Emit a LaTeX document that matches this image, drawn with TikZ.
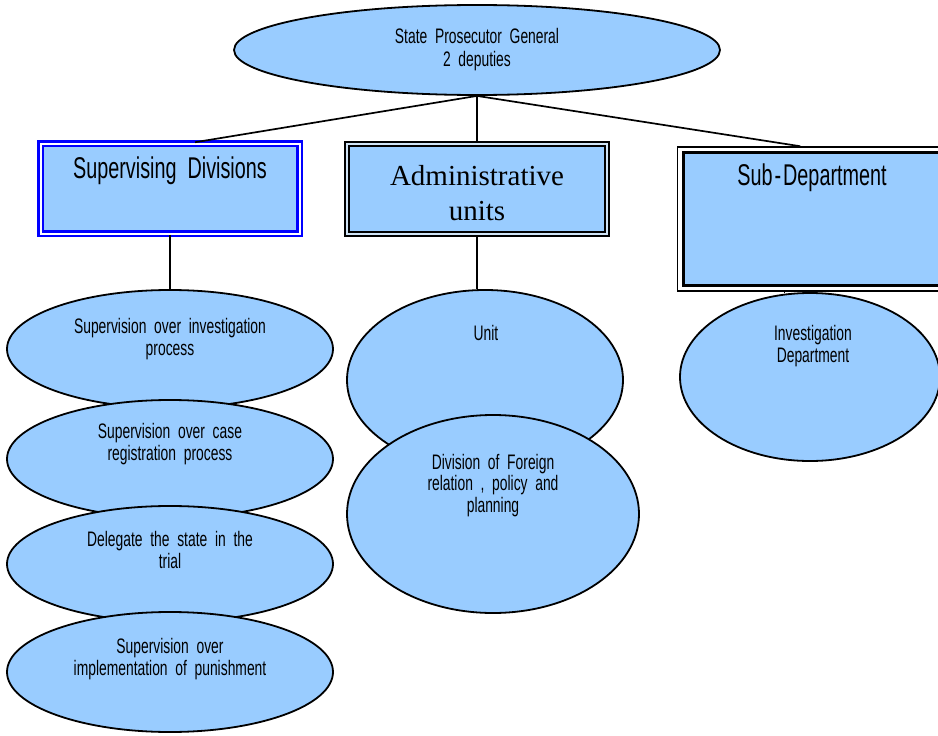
\documentclass[tikz,border=0pt]{standalone}
\usepackage{fontspec}
\setmainfont{Liberation Sans}[FakeStretch=0.66,WordSpace=2]
\newfontfamily\headserif{Liberation Serif}
\usetikzlibrary{shapes.geometric}
\definecolor{orgfill}{HTML}{99CCFF}
\definecolor{gapgrey}{HTML}{D0E4F6}
\begin{document}
\begin{tikzpicture}[x=1pt,y=-1pt,
  bubble/.style={ellipse,draw=black,line width=1.8pt,fill=orgfill,inner sep=0pt},
  smalltext/.style={font=\fontsize{21}{21.5}\selectfont,align=center,inner sep=0pt,anchor=base},
  headtext/.style={font=\fontsize{30}{34}\selectfont,inner sep=0pt,anchor=base},
  link/.style={draw=black,line width=1.7pt},
  bluebox/.style={draw=blue,double=white,double distance=2pt,line width=2.5pt,fill=orgfill,inner sep=0pt},
  blackbox/.style={draw=black,double=gapgrey,double distance=1.5pt,line width=2.5pt,fill=orgfill,inner sep=0pt},
]
\clip (0,0) rectangle (938,736);
\fill[white] (0,0) rectangle (938,736);

% head of the office (text nodes are anchored at the baseline of their last line)
\node[bubble,minimum width=486pt,minimum height=90pt] (spg) at (477,50) {};
\node[smalltext,font=\fontsize{21}{23}\selectfont] (spgt) at (477,66) {State Prosecutor General\\2 deputies};

% second level boxes
\node[bluebox,minimum width=259pt,minimum height=90pt] (sup) at (170,188.5) {};
\node[headtext] (supt) at (170,178) {Supervising Divisions};

\node[blackbox,minimum width=260pt,minimum height=90pt] (adm) at (477,189) {};
\node[font=\headserif\fontsize{29}{35}\selectfont,align=center,inner sep=0pt,anchor=base] (admt) at (477,220) {Administrative\\units};

\node[draw=black,line width=1.5pt,inner sep=0pt,minimum width=283.6pt,minimum height=144.2pt] (subframe) at (819.3,219.1) {};
\node[draw=black,line width=3pt,fill=orgfill,inner sep=0pt,minimum width=272pt,minimum height=132.5pt] (sub) at (819.3,218.75) {};
\node[headtext] (subt) at (812,185) {Sub\kern2pt-\kern2pt Department};

% connectors from the head
\draw[link] (spg.south) -- ([xshift=25pt]sup.north);
\draw[link] (spg.south) -- (adm.north);
\draw[link] (spg.south) -- ([xshift=-19pt]subframe.north);

% supervising divisions
\node[bubble,minimum width=326pt,minimum height=118pt] (e1) at (170,349) {};
\draw[link] (sup.south) -- (e1.north);
\node[smalltext] (e1t) at (170,355) {Supervision over investigation\\process};
\node[bubble,minimum width=326pt,minimum height=118pt] (e2) at (170,459) {};
\node[smalltext] (e2t) at (170,460) {Supervision over case\\registration process};
\node[bubble,minimum width=326pt,minimum height=116pt] (e3) at (170,564) {};
\node[smalltext] (e3t) at (170,568) {Delegate the state in the\\trial};
\node[bubble,minimum width=326pt,minimum height=120pt] (e4) at (170,672) {};
\node[smalltext] (e4t) at (170,675) {Supervision over\\implementation of punishment};

% administrative units
\node[bubble,minimum width=276pt,minimum height=180pt] (unit) at (485,380) {};
\draw[link] (adm.south) -- (adm.south |- unit.north);
\node[smalltext] (unitt) at (486,340) {Unit};
\node[bubble,minimum width=292pt,minimum height=198pt] (div) at (493,514) {};
\node[smalltext] (divt) at (493,512) {Division of Foreign\\relation , policy and\\planning};

% sub-department
\node[bubble,minimum width=260pt,minimum height=168pt] (inv) at (810,377) {};
\coordinate (tk) at (784,0);
\draw[line width=1pt] (subframe.south -| tk) -- (inv.north -| tk);
\node[smalltext] (invt) at (813,362) {Investigation\\Department};
\end{tikzpicture}
\end{document}
